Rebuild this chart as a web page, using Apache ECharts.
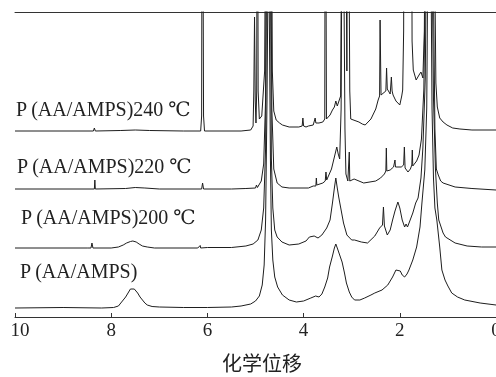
<!DOCTYPE html>
<html><head><meta charset="utf-8">
<script src="https://cdn.jsdelivr.net/npm/echarts@6/dist/echarts.min.js"></script>
<style>html,body{margin:0;padding:0;background:#fff;overflow:hidden}#c{width:496px;height:377px}</style>
</head><body><div id="c"></div>
<script>
// x: chemical shift (ppm), y: intensity above each trace's own baseline
const xTicks = [0, 2, 4, 6, 8, 10];
const seriesNames = ['P\u2009(AA/AMPS)', 'P\u2009(AA/AMPS)200 ℃', 'P\u2009(AA/AMPS)220 ℃', 'P\u2009(AA/AMPS)240 ℃'];
const baselines = [9, 69, 128, 186];

const specBase = [[10,0],[9,0.5],[8.2,0],[7.95,0.5],[7.85,2],[7.8,5],[7.75,8],[7.7,11],[7.65,15],[7.6,19],[7.57,20],[7.52,19],[7.45,15],[7.4,11],[7.35,8],[7.3,5],[7.25,3],[7.15,1.5],[7.0,1],[6.5,0.5],[6.0,0.5],[5.5,1],[5.3,2],[5.1,4],[5.0,7],[4.92,12],[4.86,23],[4.82,43],[4.79,88],[4.76,210],[4.73,400],[4.71,400],[4.69,150],[4.67,78],[4.64,48],[4.6,31],[4.54,21],[4.44,13],[4.3,8],[4.15,6],[4.0,7],[3.85,10],[3.75,12],[3.72,13],[3.68,11],[3.62,14],[3.56,21],[3.5,30],[3.46,41],[3.4,52],[3.36,60],[3.33,64],[3.3,60],[3.25,53],[3.2,46],[3.15,35],[3.11,25],[3.05,16],[3.0,11],[2.94,8],[2.83,8],[2.73,10],[2.6,13],[2.52,15],[2.37,18],[2.25,23],[2.15,31],[2.08,38],[2.04,40],[1.99,37],[1.95,33],[1.9,31],[1.85,34],[1.81,38],[1.73,48],[1.65,61],[1.58,81],[1.54,105],[1.48,138],[1.44,200],[1.41,400],[1.36,400],[1.33,200],[1.3,130],[1.27,100],[1.23,88],[1.17,61],[1.125,38],[1.06,28],[1.0,22],[0.92,15],[0.8,11],[0.65,8],[0.33,5],[0,3]];

const spec200 = [[10,0],[8.5,0],[8.42,0],[8.4,5],[8.38,0],[8.0,0],[7.85,1],[7.75,3],[7.68,5],[7.6,6.5],[7.55,7],[7.48,6],[7.42,4],[7.35,2],[7.25,1],[7.1,0],[6.2,0],[6.16,0],[6.15,2.5],[6.14,0],[6.0,0.5],[5.5,0.5],[5.2,2],[5.05,4],[4.95,8],[4.88,18],[4.83,40],[4.79,100],[4.76,400],[4.7,400],[4.67,90],[4.64,40],[4.6,18],[4.55,11],[4.45,6],[4.3,3],[4.1,4],[3.95,7],[3.88,11],[3.84,10],[3.78,12],[3.74,13],[3.7,10],[3.62,13],[3.52,20],[3.45,28],[3.4,45],[3.36,60],[3.33,70],[3.3,60],[3.27,51],[3.22,38],[3.17,25],[3.1,13],[3.0,8],[2.94,8],[2.8,6],[2.67,5],[2.52,12],[2.42,20],[2.36,23],[2.34,41],[2.32,22],[2.26,13],[2.2,18],[2.15,28],[2.1,37],[2.04,46],[2.0,40],[1.95,28],[1.9,21],[1.87,24],[1.84,21],[1.8,26],[1.73,35],[1.67,45],[1.62,50],[1.56,70],[1.52,100],[1.47,170],[1.43,400],[1.35,400],[1.3,150],[1.26,80],[1.22,45],[1.19,28],[1.1,15],[1.05,11],[0.85,5],[0.6,2],[0.3,1],[0,1]];

const spec220 = [[10,0],[8.4,0],[8.35,0],[8.34,9],[8.33,0],[7.7,0.5],[7.5,1.5],[7.3,1],[7.0,0],[6.12,0],[6.1,6],[6.08,0],[5.5,0],[5.2,0.5],[5.0,1],[4.98,4],[4.96,1.5],[4.88,8],[4.83,25],[4.79,90],[4.76,400],[4.7,400],[4.66,80],[4.62,20],[4.55,6],[4.45,2],[4.3,1],[3.9,1],[3.8,3],[3.745,3],[3.735,11],[3.725,4],[3.6,6],[3.55,8],[3.535,17],[3.52,9],[3.42,20],[3.36,32],[3.31,42],[3.28,35],[3.25,30],[3.22,80],[3.19,400],[3.16,400],[3.14,60],[3.12,15],[3.08,8],[3.06,8],[3.05,37],[3.04,8],[2.95,10],[2.75,6],[2.5,8],[2.4,11],[2.32,15],[2.29,18],[2.28,41],[2.27,18],[2.2,19],[2.13,22],[2.11,22],[2.1,29],[2.09,22],[1.97,22],[1.92,24],[1.905,42],[1.89,21],[1.83,17],[1.78,20],[1.75,24],[1.74,39],[1.73,23],[1.65,28],[1.6,34],[1.55,50],[1.5,100],[1.46,250],[1.43,400],[1.33,400],[1.3,200],[1.27,60],[1.24,20],[1.2,14],[1.15,8],[1.1,6],[0.85,2],[0.5,0.5],[0,-1]];

const spec240 = [[10,0],[8.37,0],[8.35,3],[8.33,0],[7.8,0.5],[7.5,1],[7.2,0.5],[6.5,0],[6.14,0],[6.12,15],[6.105,400],[6.095,400],[6.08,15],[6.06,0],[5.3,0],[5.1,1],[5.05,5],[5.035,40],[5.02,114],[5.005,30],[4.99,8],[4.975,40],[4.96,400],[4.945,40],[4.92,12],[4.87,15],[4.81,60],[4.77,400],[4.68,400],[4.65,60],[4.62,20],[4.57,11],[4.5,8],[4.44,6],[4.3,4],[4.1,4],[4.03,5],[4.015,13],[4.0,5],[3.95,4],[3.9,5],[3.8,6],[3.775,7],[3.76,13],[3.745,8],[3.68,8],[3.6,9],[3.56,12],[3.548,400],[3.536,400],[3.525,12],[3.5,14],[3.45,16],[3.4,21],[3.36,24],[3.33,30],[3.3,25],[3.27,24],[3.23,35],[3.21,200],[3.19,400],[3.14,400],[3.12,200],[3.1,60],[3.08,400],[3.06,400],[3.04,40],[3.02,12],[2.98,14],[2.85,9],[2.78,7],[2.72,6],[2.6,12],[2.5,22],[2.45,31],[2.42,35],[2.41,111],[2.4,111],[2.39,36],[2.35,34],[2.29,40],[2.275,63],[2.26,42],[2.2,37],[2.175,54],[2.16,40],[2.14,36],[2.08,30],[2.0,26],[1.96,35],[1.94,41],[1.92,100],[1.905,400],[1.89,150],[1.87,120],[1.855,400],[1.84,120],[1.82,120],[1.805,400],[1.79,150],[1.77,150],[1.76,400],[1.745,90],[1.72,61],[1.66,51],[1.6,56],[1.56,59],[1.52,53],[1.49,100],[1.46,300],[1.43,400],[1.3,400],[1.28,200],[1.25,48],[1.22,24],[1.17,13],[1.1,9],[1.02,6],[0.9,3],[0.75,2],[0.5,1],[0,1]];

const spectra = [specBase, spec200, spec220, spec240];

const chart = echarts.init(document.getElementById('c'), null, {renderer: 'canvas'});
const serif = '"Liberation Serif", "Times New Roman", "DejaVu Serif", serif';
const lineColor = '#1e1e1e';

const series = spectra.map((s, i) => ({
  type: 'line',
  name: seriesNames[i],
  data: s.map(p => [p[0], p[1] + baselines[i]]),
  showSymbol: false,
  symbol: 'none',
  clip: true,
  lineStyle: {color: lineColor, width: 1},
  z: 2 + i,
  silent: true,
  animation: false
}));

// trace labels
const labelPos = [[20, 275], [21, 221], [17, 169.5], [16, 112.5]];
const graphics = seriesNames.map((n, i) => ({
  type: 'text',
  left: labelPos[i][0],
  top: labelPos[i][1] - 12,
  style: {text: n, font: '20px ' + serif, fill: '#222'}
}));

chart.setOption({
  animation: false,
  backgroundColor: '#fff',
  grid: {left: 15, top: 12, width: 481, height: 305, containLabel: false, outerBoundsMode: 'none'},
  xAxis: [{
    type: 'value', inverse: true, min: 0, max: 10, interval: 2,
    axisLine: {show: true, lineStyle: {color: '#333', width: 1}},
    axisTick: {show: true, inside: true, length: 4, lineStyle: {color: '#333'}},
    axisLabel: {
      margin: 5, color: '#222', fontSize: 19, fontFamily: serif, hideOverlap: false,
      formatter: v => v === 10 ? '{a|10}' : String(v),
      rich: {a: {fontSize: 19, fontFamily: serif, color: '#222', padding: [0, 0, 0, 10]}}
    },
    splitLine: {show: false},
    name: '化学位移', nameLocation: 'middle', nameGap: 36,
    nameTextStyle: {fontSize: 20, color: '#222', fontFamily: '"Noto Sans CJK SC", sans-serif', padding: [0, 0, 0, 13]}
  }, {
    type: 'value', inverse: true, min: 0, max: 10, position: 'top',
    axisLine: {show: true, onZero: false, lineStyle: {color: '#333', width: 1}},
    axisTick: {show: false}, axisLabel: {show: false}, splitLine: {show: false}
  }],
  yAxis: {
    type: 'value', min: 0, max: 305,
    axisLine: {show: true, lineStyle: {color: '#333', width: 1}},
    axisTick: {show: false}, axisLabel: {show: false}, splitLine: {show: false}
  },
  graphic: graphics,
  series: series
});
</script></body></html>
